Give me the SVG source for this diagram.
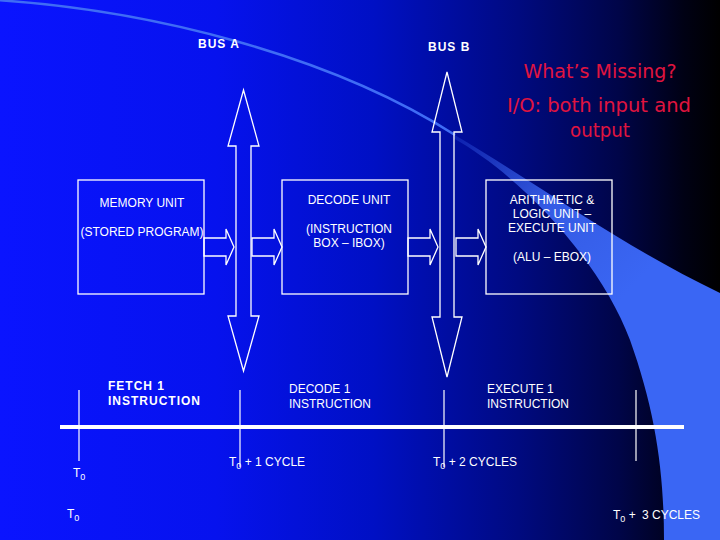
<svg xmlns="http://www.w3.org/2000/svg" width="720" height="540" viewBox="0 0 720 540">
  <defs>
    <linearGradient id="bg" x1="0" y1="0" x2="1" y2="0">
      <stop offset="0" stop-color="#0a14ff"/>
      <stop offset="0.3" stop-color="#0612ee"/>
      <stop offset="0.52" stop-color="#0010c4"/>
      <stop offset="0.72" stop-color="#000a80"/>
      <stop offset="0.86" stop-color="#000548"/>
      <stop offset="0.95" stop-color="#000114"/>
      <stop offset="1" stop-color="#000000"/>
    </linearGradient>
    <linearGradient id="band" gradientUnits="userSpaceOnUse" x1="450" y1="135" x2="620" y2="300">
      <stop offset="0" stop-color="#3a64f2" stop-opacity="0.2"/>
      <stop offset="0.5" stop-color="#3a64f2" stop-opacity="0.9"/>
      <stop offset="1" stop-color="#3a66f4" stop-opacity="1"/>
    </linearGradient>
    <style>
      .ln { fill: none; stroke: #ffffff; stroke-width: 1.3; }
      .t { font-family: "Liberation Sans", Arial, sans-serif; font-size: 12px; fill: #ffffff; }
      .c { text-anchor: middle; }
      .b { font-family: "Liberation Sans", Arial, sans-serif; font-size: 12px; font-weight: bold; fill: #ffffff; letter-spacing: 1px; }
      .r { font-family: "DejaVu Sans", "Noto Sans", sans-serif; font-size: 19px; fill: #e0143f; text-anchor: middle; }
      .sub { font-size: 9px; }
    </style>
  </defs>

  <g id="background">
    <rect x="0" y="0" width="720" height="540" fill="url(#bg)"/>
    <path d="M453,134 C540,185 620,245 720,293 L720,540 L664,540 C664,470 655,410 630,340 C600,260 520,175 453,138 Z" fill="url(#band)"/>
    <path d="M-5,0 C150,10 330,55 455,135" fill="none" stroke="#3f6cf5" stroke-width="2.5"/>
  </g>

  <g id="bus-a">
    <polygon class="ln" points="243.5,90 259,146 251,146 251,316 259,316 243.5,371 228,316 236,316 236,146 228,146"/>
    <text class="b" x="198" y="48">BUS A</text>
  </g>
  <g id="bus-b">
    <polygon class="ln" points="447,72 462,132 454,132 454,317 462,317 447,377 432,317 440,317 440,132 432,132"/>
    <text class="b" x="428" y="51">BUS B</text>
  </g>

  <g id="memory-unit">
    <rect class="ln" x="78" y="180" width="126" height="114"/>
    <text class="t c" x="142" y="207">MEMORY UNIT</text>
    <text class="t c" x="142" y="236">(STORED PROGRAM)</text>
  </g>

  <g id="decode-unit">
    <rect class="ln" x="282" y="180" width="126" height="114"/>
    <text class="t c" x="349" y="204">DECODE UNIT</text>
    <text class="t c" x="349" y="233">(INSTRUCTION</text>
    <text class="t c" x="349" y="247">BOX – IBOX)</text>
  </g>

  <g id="alu">
    <rect class="ln" x="486" y="180" width="126" height="114"/>
    <text class="t c" x="552" y="204">ARITHMETIC &amp;</text>
    <text class="t c" x="552" y="218">LOGIC UNIT –</text>
    <text class="t c" x="552" y="232">EXECUTE UNIT</text>
    <text class="t c" x="552" y="261">(ALU – EBOX)</text>
  </g>

  <g id="connectors">
    <polygon class="ln" points="204,238 226,238 226,229 234,247 226,265 226,256 204,256"/>
    <polygon class="ln" points="252,238 274,238 274,229 282,247 274,265 274,256 252,256"/>
    <polygon class="ln" points="408,238 430,238 430,229 438,247 430,265 430,256 408,256"/>
    <polygon class="ln" points="456,238 478,238 478,229 486,247 478,265 478,256 456,256"/>
  </g>

  <g id="question">
    <text class="r" x="600" y="78" textLength="153" lengthAdjust="spacingAndGlyphs">What’s Missing?</text>
    <text class="r" x="599" y="112" textLength="184" lengthAdjust="spacingAndGlyphs">I/O: both input and</text>
    <text class="r" x="600" y="137" textLength="60" lengthAdjust="spacingAndGlyphs">output</text>
  </g>

  <g id="timeline">
    <line x1="60" y1="427" x2="684" y2="427" stroke="#ffffff" stroke-width="4"/>
    <line x1="79" y1="390" x2="79" y2="461" stroke="#ffffff" stroke-width="1.2"/>
    <line x1="240" y1="390" x2="240" y2="467" stroke="#ffffff" stroke-width="1.2"/>
    <line x1="444" y1="390" x2="444" y2="467" stroke="#ffffff" stroke-width="1.2"/>
    <line x1="636" y1="390" x2="636" y2="461" stroke="#ffffff" stroke-width="1.2"/>
  </g>

  <g id="stage-labels">
    <text class="b" x="108" y="390">FETCH 1</text>
    <text class="b" x="108" y="405">INSTRUCTION</text>
    <text class="t" x="289" y="393">DECODE 1</text>
    <text class="t" x="289" y="408">INSTRUCTION</text>
    <text class="t" x="487" y="393">EXECUTE 1</text>
    <text class="t" x="487" y="408">INSTRUCTION</text>
  </g>

  <g id="time-labels">
    <text class="t" x="73" y="477">T<tspan class="sub" dy="3">0</tspan></text>
    <text class="t" x="67" y="518">T<tspan class="sub" dy="3">0</tspan></text>
    <text class="t" x="229" y="466">T<tspan class="sub" dy="3">0</tspan><tspan dy="-3"> + 1 CYCLE</tspan></text>
    <text class="t" x="433" y="466">T<tspan class="sub" dy="3">0</tspan><tspan dy="-3"> + 2 CYCLES</tspan></text>
    <text class="t" x="613" y="519">T<tspan class="sub" dy="3">0</tspan><tspan dy="-3"> +</tspan><tspan x="642">3 CYCLES</tspan></text>
  </g>
</svg>
